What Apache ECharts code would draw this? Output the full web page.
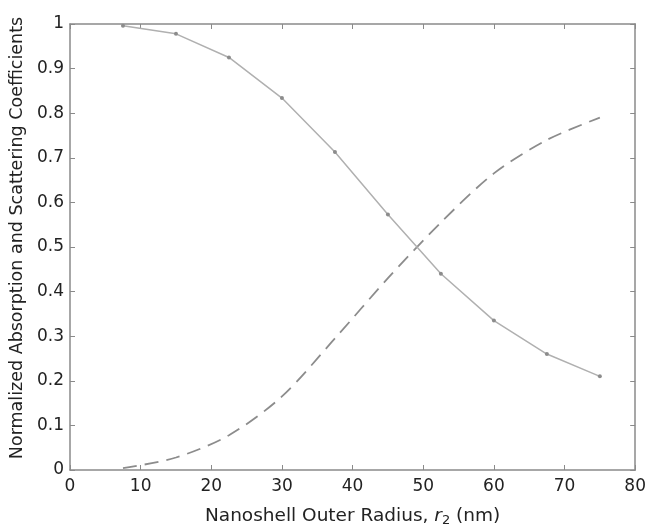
<!DOCTYPE html>
<html><head><meta charset="utf-8">
<script src="https://cdn.jsdelivr.net/npm/echarts@6/dist/echarts.min.js"></script>
<style>html,body{margin:0;padding:0;background:#fff}#c{width:649px;height:532px}</style>
</head><body><div id="c"></div>
<script>
const radii = [7.5, 15, 22.5, 30, 37.5, 45, 52.5, 60, 67.5, 75];
const absorption = [0.996, 0.978, 0.925, 0.834, 0.713, 0.573, 0.440, 0.335, 0.260, 0.210];
const scattering = [0.004, 0.028, 0.078, 0.165, 0.295, 0.430, 0.555, 0.665, 0.740, 0.790];
const xTicks = [0, 10, 20, 30, 40, 50, 60, 70, 80];
const yTicks = [0, 0.1, 0.2, 0.3, 0.4, 0.5, 0.6, 0.7, 0.8, 0.9, 1];

const font = '"DejaVu Sans", sans-serif';
const axisColor = '#8a8a8a';
const chart = echarts.init(document.getElementById('c'), null, {renderer: 'canvas'});
const baseX = {
  type: 'value', min: 0, max: 80, interval: 10,
  axisLine: {show: true, onZero: false, lineStyle: {color: axisColor, width: 1.5}},
  axisTick: {show: true, inside: true, length: 5, lineStyle: {color: axisColor}},
  splitLine: {show: false}
};
const baseY = {
  type: 'value', min: 0, max: 1, interval: 0.1,
  axisLine: {show: true, onZero: false, lineStyle: {color: axisColor, width: 1.5}},
  axisTick: {show: true, inside: true, length: 5, lineStyle: {color: axisColor}},
  splitLine: {show: false}
};
chart.setOption({
  animation: false,
  backgroundColor: '#fff',
  grid: {left: 70, right: 13, top: 24, bottom: 60, containLabel: false},
  xAxis: [
    Object.assign({}, baseX, {
      position: 'bottom',
      axisLabel: {show: true, color: '#222', fontSize: 17, fontFamily: font, margin: 8,
        formatter: v => xTicks.includes(v) ? String(v) : ''},
      name: '{n|Nanoshell Outer Radius, }{i|r}{s|2}{n| (nm)}',
      nameLocation: 'middle', nameGap: 35,
      nameTextStyle: {
        rich: {
          n: {fontSize: 18.5, fontFamily: font, color: '#222'},
          i: {fontSize: 18.5, fontFamily: font, color: '#222', fontStyle: 'italic'},
          s: {fontSize: 13, fontFamily: font, color: '#222', padding: [9, 0, 0, 0]}
        }
      }
    }),
    Object.assign({}, baseX, {position: 'top', axisLabel: {show: false}})
  ],
  yAxis: [
    Object.assign({}, baseY, {
      position: 'left',
      axisLabel: {show: true, color: '#222', fontSize: 17, fontFamily: font, margin: 6,
        formatter: v => { const t = yTicks.find(k => Math.abs(k - v) < 1e-9); return t === undefined ? '' : String(t); }},
      name: 'Normalized Absorption and Scattering Coefficients',
      nameLocation: 'middle', nameGap: 41, nameRotate: 90,
      nameTextStyle: {fontSize: 17.5, fontFamily: font, color: '#222', padding: [0, 0, 0, 18]}
    }),
    Object.assign({}, baseY, {position: 'right', axisLabel: {show: false}})
  ],
  series: [
    {
      type: 'line', xAxisIndex: 0, yAxisIndex: 0,
      data: radii.map((r, i) => [r, absorption[i]]),
      symbol: 'circle', symbolSize: 4,
      itemStyle: {color: '#8c8c8c'},
      lineStyle: {color: '#b0b0b0', width: 1.5},
      z: 3
    },
    {
      type: 'line', xAxisIndex: 0, yAxisIndex: 0,
      data: radii.map((r, i) => [r, scattering[i]]),
      symbol: 'none', smooth: 0.3,
      lineStyle: {color: '#8c8c8c', width: 1.8, type: [14, 8]},
      z: 2
    }
  ]
});
</script></body></html>
